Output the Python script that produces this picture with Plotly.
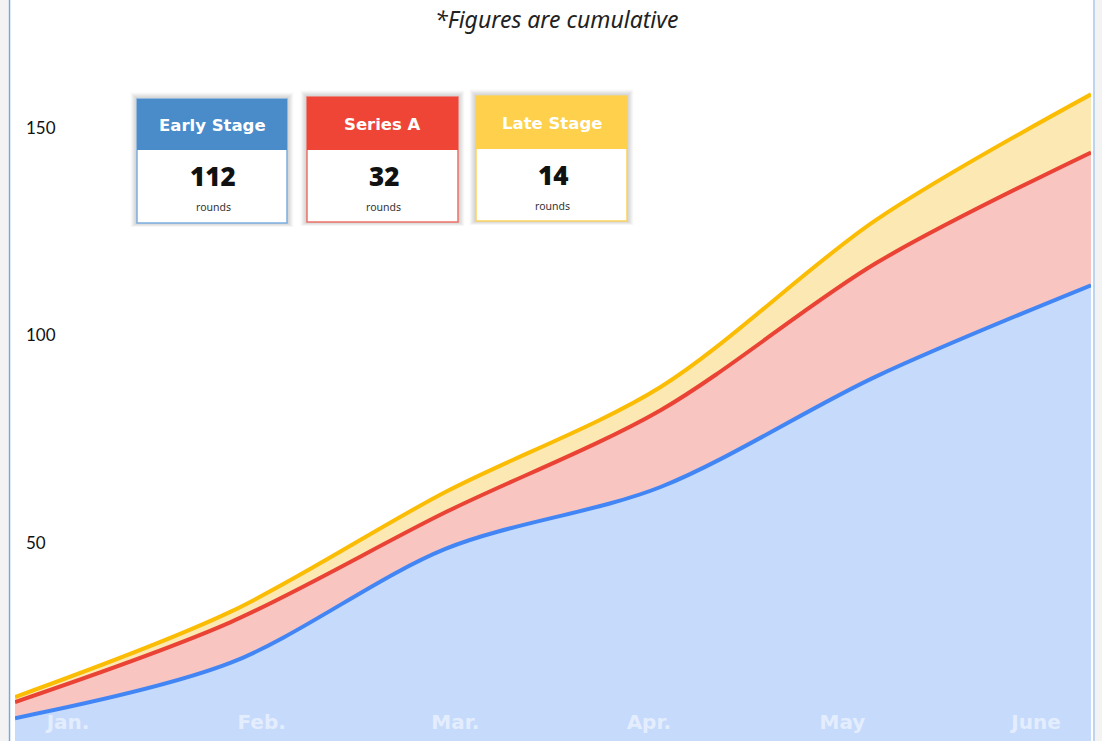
import plotly.graph_objects as go

# Cumulative funding rounds per stage, stacked (Jan. -> June)
months = ["Jan.", "Feb.", "Mar.", "Apr.", "May", "June"]
points = [0, 1, 2, 3, 4, 5]
early_stage = [7.7, 21.0, 48.5, 63.4, 90.0, 112]
series_a = [3.9, 9.8, 8.8, 18.5, 27.3, 32]
late_stage = [1.2, 2.5, 4.9, 5.6, 10.4, 14]
y_ticks = [50, 100, 150]

card_titles = ["Early Stage", "Series A", "Late Stage"]
card_totals = [early_stage[-1], series_a[-1], late_stage[-1]]

W, H = 1102, 741
L, R, T, B = 15, 11, 40, 0
PW, PH = W - L - R, H - T - B


def px_x(px):
    return (px - L) / PW


def px_y(py):
    return (H - B - py) / PH


fig = go.Figure()

series = [
    ("Early Stage", early_stage, "#4285F4", "#c6dafc"),
    ("Series A", series_a, "#EA4335", "#f8c5c1"),
    ("Late Stage", late_stage, "#FBBC04", "#fce8b2"),
]
for name, vals, line_col, fill_col in series:
    fig.add_trace(go.Scatter(
        x=points, y=vals, name=name, mode="lines",
        stackgroup="rounds",
        line=dict(color=line_col, width=4, shape="spline", smoothing=0.9),
        fillcolor=fill_col,
        hoverinfo="skip",
    ))

fig.update_layout(
    width=W, height=H,
    margin=dict(l=L, r=R, t=T, b=B, pad=0),
    paper_bgcolor="white", plot_bgcolor="white",
    showlegend=False,
    xaxis=dict(range=[0, 5], showticklabels=False, showgrid=False,
               zeroline=False, showline=False, ticks=""),
    xaxis2=dict(overlaying="x", anchor="y", side="bottom",
                range=[-0.274, 5.284], tickvals=points, ticktext=months,
                ticklabelposition="inside", ticks="", ticklen=0,
                ticklabelstandoff=5,
                showgrid=False, zeroline=False, showline=False,
                tickfont=dict(family="DejaVu Sans", size=20, weight=700,
                              color="rgba(255,255,255,0.55)")),
    yaxis=dict(range=[2.2, 171.1], tickvals=y_ticks,
               ticklabelposition="inside", ticks="",
               ticklabelstandoff=8,
               showgrid=False, zeroline=False, showline=False,
               tickfont=dict(family="Lato", size=17, color="#111")),
)

# invisible trace that activates the month axis
fig.add_trace(go.Scatter(x=[0], y=[None], xaxis="x2", yaxis="y",
                         mode="lines", showlegend=False, hoverinfo="skip"))

shapes = []
# side frame
shapes.append(dict(type="rect", xref="paper", yref="paper",
                   x0=px_x(0), x1=px_x(8.5), y0=px_y(H), y1=px_y(0),
                   fillcolor="#f3f3f3", line=dict(width=0), layer="above"))
shapes.append(dict(type="line", xref="paper", yref="paper",
                   x0=px_x(9.5), x1=px_x(9.5), y0=px_y(H), y1=px_y(0),
                   line=dict(color="#7aa7e0", width=1.5), layer="above"))
shapes.append(dict(type="rect", xref="paper", yref="paper",
                   x0=px_x(1095), x1=px_x(W), y0=px_y(H), y1=px_y(0),
                   fillcolor="#f3f3f3", line=dict(width=0), layer="above"))
shapes.append(dict(type="line", xref="paper", yref="paper",
                   x0=px_x(1094), x1=px_x(1094), y0=px_y(H), y1=px_y(0),
                   line=dict(color="#a9c6ea", width=1.5), layer="above"))

# summary cards: (left, top, right, bottom, header bottom)
cards = [
    (137, 99, 287, 223, 150, "#4a8bca", "#7eaee0"),
    (307, 97, 458, 222, 150, "#ee4536", "#f07167"),
    (476, 96, 627, 221, 149, "#fed04b", "#fbd45f"),
]
annotations = []
for (x0, y0, x1, y1, yh, head_col, edge_col), title, total in zip(cards, card_titles, card_totals):
    # soft drop shadow, denser towards the top edge
    for s in range(8, 0, -1):
        shapes.append(dict(type="rect", xref="paper", yref="paper",
                           x0=px_x(x0 - s * 0.8), x1=px_x(x1 + s * 0.8),
                           y0=px_y(y1 + s * 0.5), y1=px_y(y0 - s * 0.8),
                           fillcolor="rgba(0,0,0,0.022)", line=dict(width=0),
                           layer="above"))
    shapes.append(dict(type="rect", xref="paper", yref="paper",
                       x0=px_x(x0), x1=px_x(x1), y0=px_y(y1), y1=px_y(y0),
                       fillcolor="white", line=dict(color=edge_col, width=1.5),
                       layer="above"))
    shapes.append(dict(type="rect", xref="paper", yref="paper",
                       x0=px_x(x0), x1=px_x(x1), y0=px_y(yh), y1=px_y(y0),
                       fillcolor=head_col, line=dict(width=0), layer="above"))
    cx = (x0 + x1) / 2
    annotations.append(dict(xref="paper", yref="paper", x=px_x(cx),
                            y=px_y((y0 + yh) / 2 + 1), text=title,
                            showarrow=False, xanchor="center", yanchor="middle",
                            font=dict(family="DejaVu Sans", size=16.5, weight=700,
                                      color="white")))
    annotations.append(dict(xref="paper", yref="paper", x=px_x(cx + 1),
                            y=px_y(yh + 26), text=f"{total:g}",
                            showarrow=False, xanchor="center", yanchor="middle",
                            font=dict(family="Open Sans", size=26, weight=800,
                                      color="#111")))
    annotations.append(dict(xref="paper", yref="paper", x=px_x(cx + 1),
                            y=px_y(yh + 57), text="rounds",
                            showarrow=False, xanchor="center", yanchor="middle",
                            font=dict(family="Noto Sans", size=10.5,
                                      color="#333")))

annotations.append(dict(xref="paper", yref="paper", x=px_x(556), y=px_y(19),
                        text="<i>*Figures are cumulative</i>", showarrow=False,
                        xanchor="center", yanchor="middle",
                        font=dict(family="Noto Sans", size=23, color="#222")))

fig.update_layout(shapes=shapes, annotations=annotations)
fig.write_html("out.html")
